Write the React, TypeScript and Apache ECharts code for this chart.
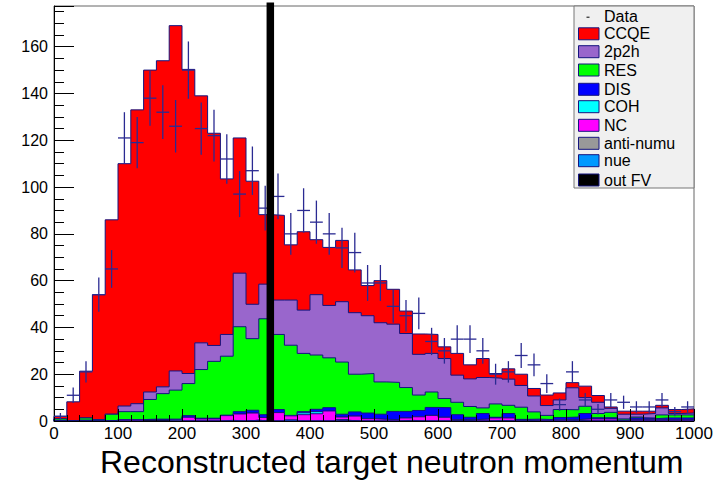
import { useEffect, useRef } from 'react';
import * as echarts from 'echarts';

// 50 bins of width 20 from 0 to 1000
const BIN_WIDTH = 20;
const X_MAX = 1000;
const Y_MAX = 177.4;
const CUT_X = 338;

const dataCounts = [2, 11, 21, 54, 65, 121, 119, 138, 132, 126, 150, 125, 122, 112, 97, 107, 91, 96, 80, 90, 85, 80, 74, 72, 59, 59, 49, 45, 46, 34, 30, 35, 35, 30, 20, 21, 28, 24, 16, 7, 21, 9, 5, 9, 8, 6, 6, 9, 4, 6];

const ccqe = [1.1, 8.2, 20.0, 53.4, 83.1, 103.6, 125.6, 137.6, 139.4, 147.6, 130.0, 105.6, 90.7, 66.5, 57.8, 52.6, 29.7, 36.2, 23.6, 33.5, 23.5, 24.8, 26.2, 18.3, 12.9, 18.0, 14.9, 9.6, 8.7, 8.1, 5.0, 9.3, 6.0, 8.1, 2.0, 4.4, 4.8, 3.2, 4.5, 3.0, 2.2, 4.9, 2.9, 0.6, 1.3, 1.3, 1.0, 1.1, 1.7, 1.8];
const twoP2h = [0, 0, 0, 0, 0, 2.4, 3.4, 3.2, 2.9, 8.2, 4.3, 11.4, 6.8, 9.3, 22.9, 14.7, 14.8, 14.7, 19.3, 18.5, 25.8, 22.4, 25.8, 26.3, 24.7, 25.3, 24.9, 23.1, 17.4, 16.5, 17.1, 11.6, 11.8, 13.0, 11.0, 11.2, 9.3, 6.8, 4.2, 4.1, 9.4, 3.7, 4.8, 1.7, 2.0, 1.2, 1.9, 3.0, 0.6, 0.8];
const res = [0.7, 0, 0.9, 0.6, 2.7, 3.4, 3.4, 8.4, 10.9, 12.4, 13.7, 20.8, 24.3, 25.2, 36.3, 30.6, 41.0, 32.1, 30.0, 24.9, 23.2, 21.3, 22.3, 16.1, 16.9, 13.8, 12.4, 10.2, 6.6, 6.6, 3.9, 5.3, 4.6, 2.4, 5.7, 3.5, 5.2, 3.1, 1.8, 3.4, 3.1, 3.1, 1.8, 2.3, 0.5, 0.4, 0.3, 1.3, 1.3, 1.3];
const dis = [0.2, 0, 0.4, 0, 0.2, 0, 0, 0.4, 0.4, 0.2, 0.7, 0.3, 0.3, 0.2, 1.0, 1.2, 1.2, 1.3, 0.2, 0.5, 1.0, 1.4, 1.2, 1.8, 2.4, 2.2, 3.5, 2.8, 2.7, 3.4, 4.1, 2.1, 1.0, 2.4, 0.3, 1.9, 0.3, 0.3, 0.2, 0.9, 1.1, 2.3, 0.5, 0.5, 0.2, 0.7, 0.5, 0.7, 0.7, 0.7];
const coh = [0, 0, 0, 0, 0, 0, 0, 0, 0, 0, 0, 0, 0, 0, 0, 0, 0, 0, 0, 0.8, 0.9, 0, 0, 0, 0, 0, 0, 0, 0, 0, 0, 0, 0, 0, 0, 0, 0, 0, 0, 0, 0, 0, 0, 0, 0, 0, 0, 0, 0, 0];
const nc = [0, 0, 0, 0, 0, 0.6, 0.6, 0, 0, 0.1, 1.6, 0.9, 0.9, 2.0, 3.0, 3.1, 1.5, 3.6, 1.8, 2.7, 3.1, 4.3, 1.1, 2.1, 1.0, 0.7, 0.6, 1.0, 1.8, 2.4, 1.6, 0.3, 0.6, 0.8, 1.0, 1.3, 0.1, 0.5, 0.4, 0.6, 0.3, 0.9, 0.9, 0.9, 0.2, 0.6, 0.5, 0.6, 0.6, 0.6];
const antiNumu = [0, 0, 0, 0, 0, 0, 0, 0, 0, 0.5, 0, 0, 0, 0.3, 0, 0, 0, 0, 0, 0, 0, 0, 0.3, 0, 0, 0, 0, 0.3, 0, 0, 0, 0, 0, 0, 0.3, 0, 0.3, 0, 0, 0, 0.3, 0, 0, 0, 0, 0, 0, 0, 0, 0];
const nue = [0, 0, 0, 0, 0, 0, 0, 0, 0, 0, 0, 0, 0, 0, 0, 0, 0, 0, 0.4, 0, 0, 0, 0, 0, 0, 0, 0, 0, 0, 0, 0, 0, 0, 0, 0, 0, 0, 0, 0, 0, 0, 0, 0, 0, 0, 0, 0, 0, 0, 0];
const outFV = [0, 0, 0, 0, 0, 0, 0, 0.4, 0.4, 0, 0, 0, 0, 0, 0, 0.3, 0, 0, 0, 0, 0, 0, 0.3, 0, 0, 0, 0, 0, 0, 0, 0, 0.3, 0, 0, 0, 0, 0, 0, 0, 0, 0, 0, 0, 0, 0, 0, 0, 0, 0, 0];

const xTickLabels = ['0', '100', '200', '300', '400', '500', '600', '700', '800', '900', '1000'];

// legend order (top of stack first)
const components = [
  { name: 'CCQE', color: '#ff0000', values: ccqe },
  { name: '2p2h', color: '#9966cc', values: twoP2h },
  { name: 'RES', color: '#00ff00', values: res },
  { name: 'DIS', color: '#0000ff', values: dis },
  { name: 'COH', color: '#00ffff', values: coh },
  { name: 'NC', color: '#ff00ff', values: nc },
  { name: 'anti-numu', color: '#999999', values: antiNumu },
  { name: 'nue', color: '#0099ff', values: nue },
  { name: 'out FV', color: '#000000', values: outFV },
];

const OUTLINE = '#14147f';
const FONT = '"Liberation Sans", Arial, Helvetica, sans-serif';

export default function App() {
  const ref = useRef<HTMLDivElement>(null);

  useEffect(() => {
    document.body.style.margin = '0';
    if (!ref.current) return;
    const chart = echarts.init(ref.current, null, { renderer: 'svg' });

    const nBins = dataCounts.length;
    const bottomUp = [...components].reverse();
    const cum: number[][] = [];
    bottomUp.forEach((c, k) => {
      cum.push(c.values.map((v, i) => (k === 0 ? 0 : cum[k - 1][i]) + v));
    });

    const stepPoints = (vals: number[]) => {
      const pts: number[][] = [[0, 0]];
      for (let i = 0; i < nBins; i++) pts.push([i * BIN_WIDTH, vals[i]]);
      pts.push([X_MAX, vals[nBins - 1]]);
      pts.push([X_MAX, 0]);
      return pts;
    };

    const histSeries: any[] = [];
    for (let k = bottomUp.length - 1; k >= 0; k--) {
      const c = bottomUp[k];
      histSeries.push({
        type: 'line',
        name: c.name,
        step: 'end',
        data: stepPoints(cum[k]),
        symbol: 'none',
        silent: true,
        z: 2 + (bottomUp.length - k),
        lineStyle: { color: OUTLINE, width: 1 },
        areaStyle: { color: c.color, opacity: 1 },
      });
    }

    const dataSeries = {
      type: 'custom',
      name: 'Data',
      z: 20,
      silent: true,
      data: dataCounts.map((v, i) => [i * BIN_WIDTH + BIN_WIDTH / 2, v]),
      encode: { x: 0, y: 1 },
      renderItem: (_p: any, api: any) => {
        const x = api.value(0);
        const v = api.value(1);
        const e = Math.sqrt(v);
        const pL = api.coord([x - BIN_WIDTH / 2, v]);
        const pR = api.coord([x + BIN_WIDTH / 2, v]);
        const pT = api.coord([x, v + e]);
        const pB = api.coord([x, Math.max(0, v - e)]);
        const st = { stroke: '#2a2a92', lineWidth: 1.3 };
        return {
          type: 'group',
          children: [
            { type: 'line', shape: { x1: pL[0], y1: pL[1], x2: pR[0], y2: pR[1] }, style: st },
            { type: 'line', shape: { x1: pT[0], y1: pT[1], x2: pB[0], y2: pB[1] }, style: st },
          ],
        };
      },
    };

    const cutSeries = {
      type: 'custom',
      name: 'cut',
      z: 30,
      silent: true,
      clip: false,
      data: [[CUT_X, 0]],
      encode: { x: 0, y: 1 },
      renderItem: (_p: any, api: any) => {
        const p0 = api.coord([api.value(0), 0]);
        const p1 = api.coord([api.value(0), Y_MAX]);
        return {
          type: 'rect',
          shape: { x: p0[0] - 3.75, y: p1[1] - 3.5, width: 7.5, height: p0[1] - p1[1] + 3.5 },
          style: { fill: '#000000' },
        };
      },
    };

    const rowY = [16.7, 33.8, 51.7, 70, 89.3, 106.7, 125.3, 143.3, 160.7, 180];
    const legendChildren: any[] = [
      {
        type: 'rect',
        shape: { x: 574, y: 6, width: 120, height: 182 },
        style: { fill: '#f0f0f0', stroke: '#777777', lineWidth: 1 },
      },
      {
        type: 'line',
        shape: { x1: 586.5, y1: rowY[0] + 0.5, x2: 589.5, y2: rowY[0] + 0.5 },
        style: { stroke: '#000000', lineWidth: 1 },
      },
      {
        type: 'text',
        x: 604,
        y: rowY[0],
        style: { text: 'Data', font: `16px ${FONT}`, fill: '#000', verticalAlign: 'middle' },
      },
    ];
    components.forEach((c, idx) => {
      const y = rowY[idx + 1];
      legendChildren.push({
        type: 'rect',
        shape: { x: 578.5, y: y - 6, width: 20.5, height: 12 },
        style: { fill: c.color, stroke: OUTLINE, lineWidth: 1 },
      });
      legendChildren.push({
        type: 'text',
        x: 604,
        y,
        style: { text: c.name, font: `16px ${FONT}`, fill: '#000', verticalAlign: 'middle' },
      });
    });

    chart.setOption({
      animation: false,
      backgroundColor: '#ffffff',
      grid: {
        left: 54,
        right: 33,
        top: 6,
        bottom: 59,
        show: true,
        borderColor: '#666666',
        borderWidth: 1,
        backgroundColor: '#ffffff',
      },
      xAxis: {
        type: 'value',
        min: 0,
        max: X_MAX,
        interval: 100,
        z: 15,
        axisLine: { show: true, onZero: false, lineStyle: { color: '#000', width: 1 } },
        axisTick: { show: true, inside: true, length: 12, lineStyle: { color: '#000' } },
        minorTick: { show: true, splitNumber: 5, length: 6, lineStyle: { color: '#000' } },
        splitLine: { show: false },
        axisLabel: {
          margin: 4,
          fontSize: 17,
          fontFamily: FONT,
          color: '#000',
          formatter: (v: number) => xTickLabels[Math.round(v / 100)] ?? '',
        },
      },
      yAxis: {
        type: 'value',
        min: 0,
        max: Y_MAX,
        interval: 20,
        z: 15,
        axisLine: { show: true, onZero: false, lineStyle: { color: '#000', width: 1 } },
        axisTick: { show: true, inside: true, length: 20, lineStyle: { color: '#000' } },
        minorTick: { show: true, splitNumber: 4, length: 10, lineStyle: { color: '#000' } },
        splitLine: { show: false },
        axisLabel: {
          margin: 6,
          fontSize: 16,
          fontFamily: FONT,
          color: '#000',
          showMaxLabel: false,
          formatter: (v: number) => (Math.abs(v % 20) < 1e-6 ? String(v) : ''),
        },
      },
      series: [...histSeries, dataSeries, cutSeries],
      graphic: [
        ...legendChildren.map((g) => ({ ...g, z: 40 })),
        {
          type: 'text',
          x: 100,
          y: 462,
          z: 40,
          style: {
            text: 'Reconstructed target neutron momentum',
            font: `32px ${FONT}`,
            fill: '#000',
            verticalAlign: 'middle',
          },
        },
      ],
    });

    return () => chart.dispose();
  }, []);

  return <div ref={ref} style={{ width: 727, height: 480 }} />;
}
